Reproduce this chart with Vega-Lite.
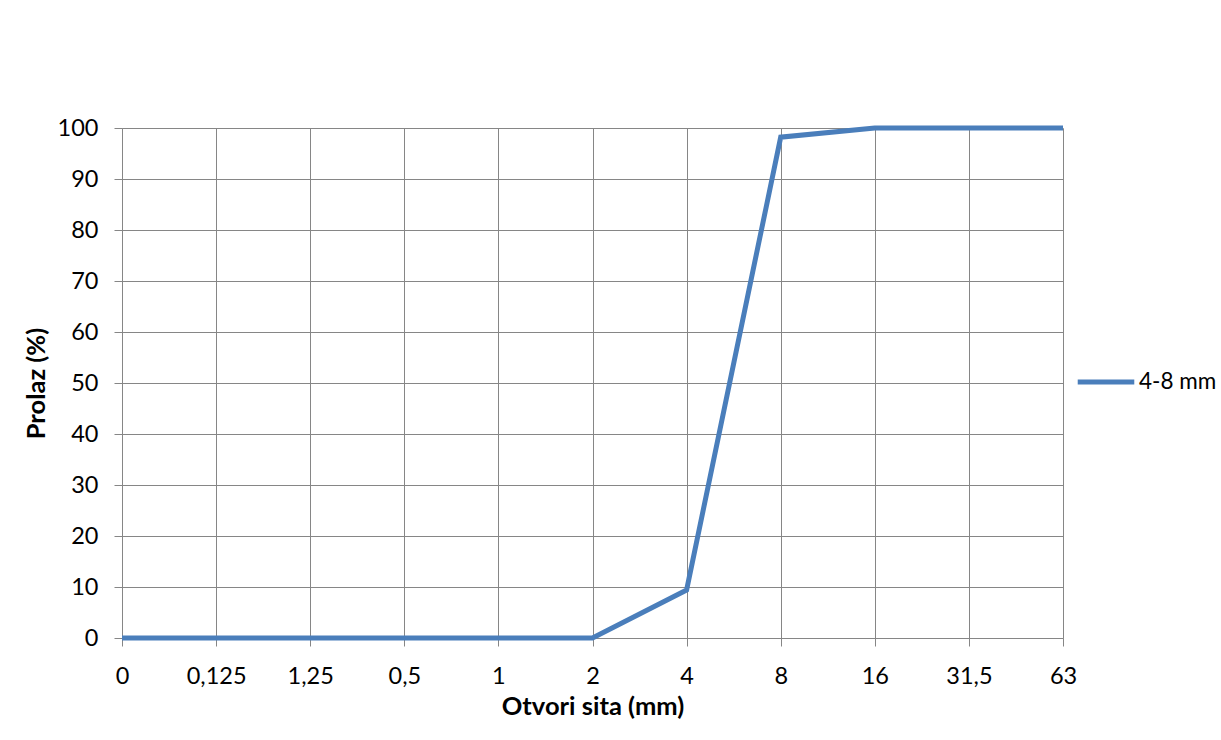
{
  "$schema": "https://vega.github.io/schema/vega-lite/v6.json",
  "autosize": {"type": "none"},
  "padding": {"left": 122, "top": 128, "right": 158, "bottom": 102},
  "width": 941,
  "height": 510,
  "background": "white",
  "data": {
    "values": [
      {"sito": "0", "prolaz": 0, "serija": "4-8 mm"},
      {"sito": "0,125", "prolaz": 0, "serija": "4-8 mm"},
      {"sito": "1,25", "prolaz": 0, "serija": "4-8 mm"},
      {"sito": "0,5", "prolaz": 0, "serija": "4-8 mm"},
      {"sito": "1", "prolaz": 0, "serija": "4-8 mm"},
      {"sito": "2", "prolaz": 0, "serija": "4-8 mm"},
      {"sito": "4", "prolaz": 9.4, "serija": "4-8 mm"},
      {"sito": "8", "prolaz": 98.2, "serija": "4-8 mm"},
      {"sito": "16", "prolaz": 100, "serija": "4-8 mm"},
      {"sito": "31,5", "prolaz": 100, "serija": "4-8 mm"},
      {"sito": "63", "prolaz": 100, "serija": "4-8 mm"}
    ]
  },
  "mark": {"type": "line", "strokeWidth": 5, "strokeJoin": "miter", "strokeCap": "butt"},
  "encoding": {
    "x": {
      "field": "sito",
      "type": "ordinal",
      "sort": null,
      "scale": {"type": "point", "padding": 0},
      "axis": {
        "title": "Otvori sita (mm)",
        "labelAngle": 0,
        "grid": true,
        "gridColor": "#868686",
        "tickColor": "#868686",
        "domainColor": "#868686",
        "tickSize": 8,
        "labelPadding": 18,
        "labelFont": "Lato",
        "labelFontSize": 23.5,
        "labelColor": "#000000",
        "titleFont": "Lato",
        "titleFontSize": 25.5,
        "titleFontWeight": "bold",
        "titleColor": "#000000",
        "titlePadding": 7
      }
    },
    "y": {
      "field": "prolaz",
      "type": "quantitative",
      "scale": {"domain": [0, 100], "nice": false},
      "axis": {
        "title": "Prolaz (%)",
        "values": [0, 10, 20, 30, 40, 50, 60, 70, 80, 90, 100],
        "grid": true,
        "gridColor": "#868686",
        "tickColor": "#868686",
        "domainColor": "#868686",
        "tickSize": 8,
        "labelPadding": 16,
        "labelFont": "Lato",
        "labelFontSize": 23.5,
        "labelColor": "#000000",
        "titleFont": "Lato",
        "titleFontSize": 25.5,
        "titleFontWeight": "bold",
        "titleColor": "#000000",
        "titlePadding": 8
      }
    },
    "color": {
      "field": "serija",
      "type": "nominal",
      "scale": {"range": ["#4a7ebb"]},
      "legend": {
        "title": null,
        "orient": "none",
        "legendX": 953,
        "legendY": 223,
        "symbolType": "stroke",
        "symbolSize": 3200,
        "symbolStrokeWidth": 5,
        "labelFont": "Lato",
        "labelFontSize": 22.5,
        "labelColor": "#000000",
        "labelOffset": 2
      }
    }
  },
  "config": {
    "view": {"stroke": null},
    "axis": {"gridWidth": 1, "tickWidth": 1, "domainWidth": 1}
  }
}
